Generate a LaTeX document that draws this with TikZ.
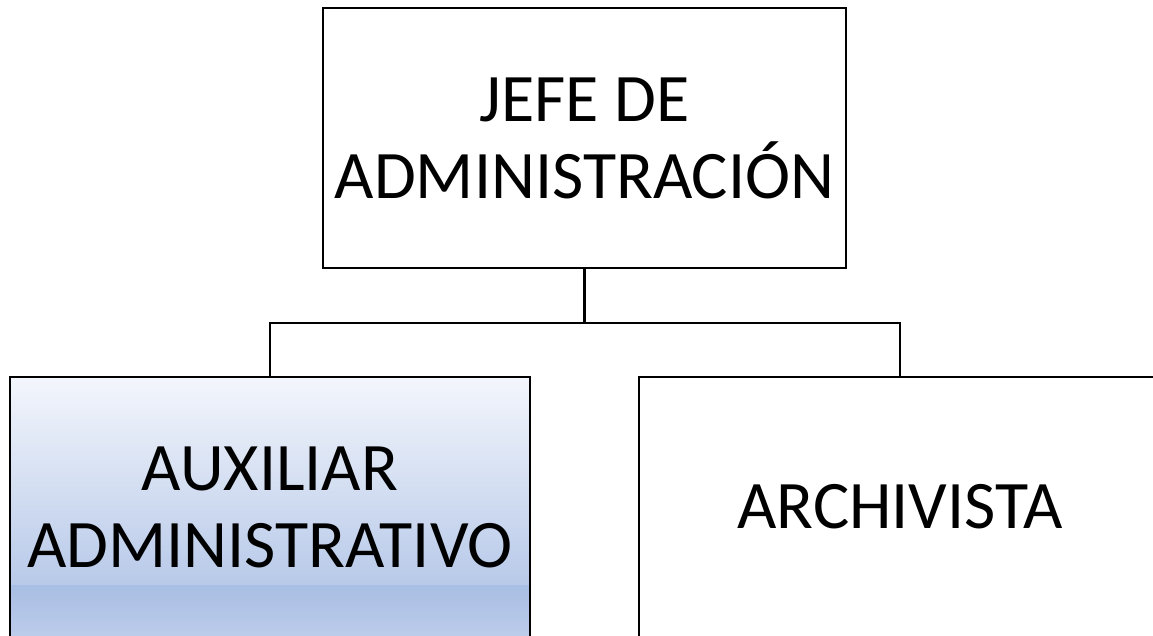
\documentclass[tikz,border=0pt]{standalone}
\usepackage{fontspec}
\setmainfont{Carlito}
\definecolor{gtop}{HTML}{F3F6FC}
\definecolor{gmid}{HTML}{A9BEE4}
\definecolor{gbot}{HTML}{BCCCEA}
\tikzset{
  orgbox/.style={draw=black, line width=2.5pt, rectangle, inner sep=0pt,
    align=center, font=\fontsize{68}{77}\selectfont},
  link/.style={draw=black, line width=2.5pt}
}
\begin{document}
\begin{tikzpicture}[x=1pt,y=-1pt]
\useasboundingbox (0,0) rectangle (1153,635);
\node[orgbox, minimum width=523pt, minimum height=260pt] (top) at (584.5,138) {JEFE DE\\ADMINISTRACIÓN};
\node[orgbox, minimum width=520pt, minimum height=260pt,
  path picture={
    \shade[top color=gtop, bottom color=gmid] (path picture bounding box.north west) rectangle ([yshift=-208pt]path picture bounding box.north east);
    \shade[top color=gmid, bottom color=gbot] ([yshift=-208pt]path picture bounding box.north west) rectangle (path picture bounding box.south east);
  }] (aux) at (270,507) {AUXILIAR\\ADMINISTRATIVO};
\node[orgbox, minimum width=522pt, minimum height=260pt] (arch) at (900,507) {ARCHIVISTA};
\coordinate (bus) at (584.5,323);
\draw[link] (top.south) -- (bus);
\draw[link] (aux.north) |- (bus) -| (arch.north);
\end{tikzpicture}
\end{document}
